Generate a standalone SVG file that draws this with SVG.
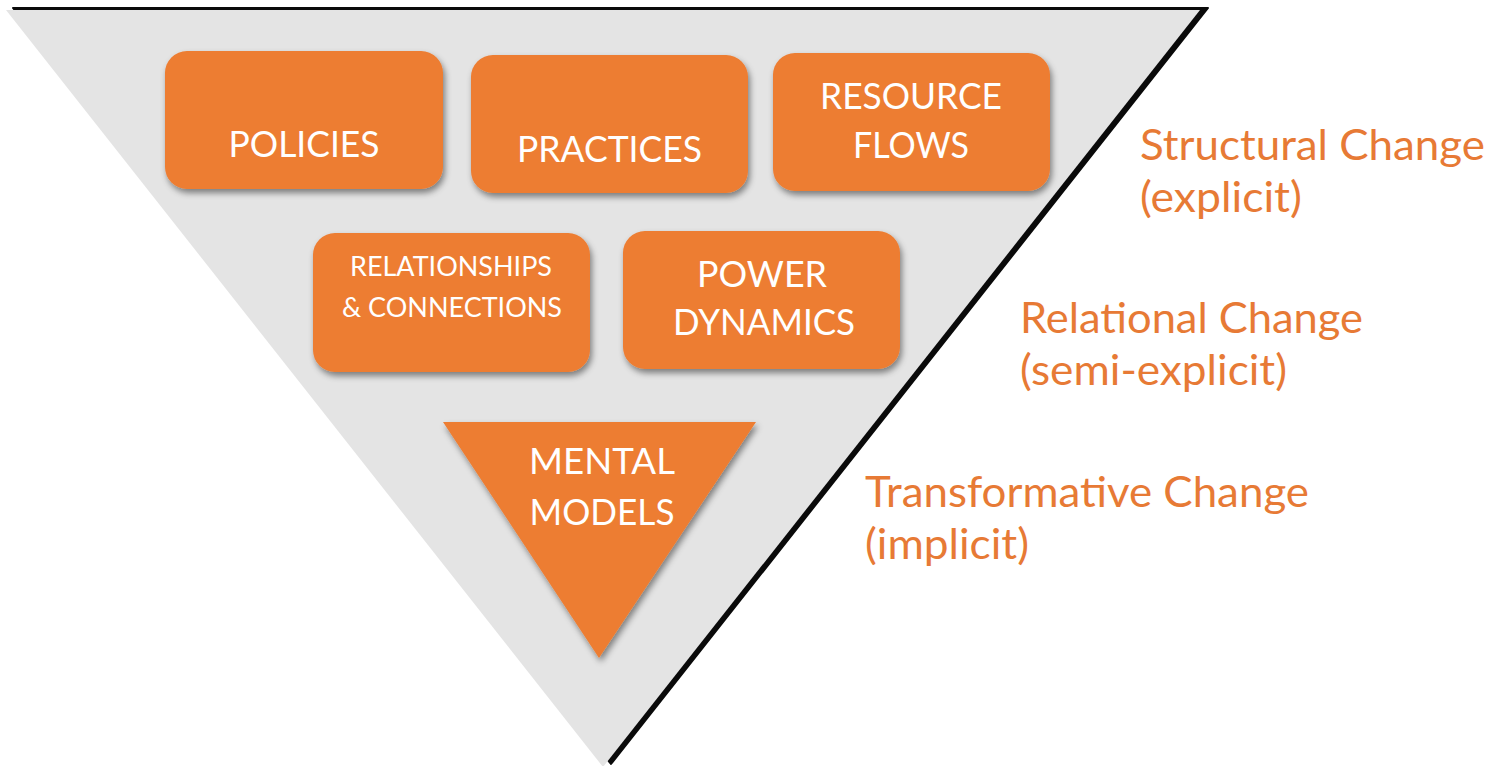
<svg xmlns="http://www.w3.org/2000/svg" width="1491" height="766" viewBox="0 0 1491 766">
  <style>
    .box { fill: #ED7D31; }
    .boxlabel { fill: #FFFFFF; font-family: Lato, "Noto Sans", "Liberation Sans", sans-serif; text-anchor: middle; }
    .side { fill: #E77A35; font-family: Lato, "Noto Sans", "Liberation Sans", sans-serif; font-size: 42px; }
  </style>
  <defs>
    <filter id="shadow" x="-10%" y="-10%" width="125%" height="130%">
      <feDropShadow dx="2" dy="4" stdDeviation="3" flood-color="#000000" flood-opacity="0.45"/>
    </filter>
  </defs>

  <!-- inverted pyramid with dark edge on top and right -->
  <g id="pyramid">
    <polygon points="13,8 1208,8 611,764" fill="#0A0A0A" stroke="#0A0A0A" stroke-width="2" stroke-linejoin="round"/>
    <polygon points="6,10 1200,10 603,767" fill="#E4E4E4"/>
  </g>

  <g id="connectors"/>

  <g id="policies">
    <rect class="box" x="165" y="51" width="278" height="138" rx="22" filter="url(#shadow)"/>
    <text class="boxlabel" x="304" y="157" font-size="36" textLength="151" lengthAdjust="spacingAndGlyphs">POLICIES</text>
  </g>

  <g id="practices">
    <rect class="box" x="471" y="55" width="277" height="138" rx="22" filter="url(#shadow)"/>
    <text class="boxlabel" x="609.5" y="162" font-size="37" textLength="185" lengthAdjust="spacingAndGlyphs">PRACTICES</text>
  </g>

  <g id="resource-flows">
    <rect class="box" x="773" y="53" width="277" height="138" rx="22" filter="url(#shadow)"/>
    <text class="boxlabel" x="911" y="109" font-size="36" textLength="182" lengthAdjust="spacingAndGlyphs">RESOURCE</text>
    <text class="boxlabel" x="911" y="158" font-size="36" textLength="116" lengthAdjust="spacingAndGlyphs">FLOWS</text>
  </g>

  <g id="relationships">
    <rect class="box" x="313" y="233" width="277" height="139" rx="22" filter="url(#shadow)"/>
    <text class="boxlabel" x="451" y="276" font-size="27" textLength="202" lengthAdjust="spacingAndGlyphs">RELATIONSHIPS</text>
    <text class="boxlabel" x="452" y="317" font-size="27" textLength="220" lengthAdjust="spacingAndGlyphs">&amp; CONNECTIONS</text>
  </g>

  <g id="power-dynamics">
    <rect class="box" x="623" y="231" width="277" height="138" rx="22" filter="url(#shadow)"/>
    <text class="boxlabel" x="762" y="287" font-size="37" textLength="130" lengthAdjust="spacingAndGlyphs">POWER</text>
    <text class="boxlabel" x="764" y="335" font-size="37" textLength="182" lengthAdjust="spacingAndGlyphs">DYNAMICS</text>
  </g>

  <g id="mental-models">
    <polygon class="box" points="443,422 756,422 599,658" filter="url(#shadow)"/>
    <text class="boxlabel" x="602" y="474" font-size="36" textLength="146" lengthAdjust="spacingAndGlyphs">MENTAL</text>
    <text class="boxlabel" x="602" y="525" font-size="36" textLength="145" lengthAdjust="spacingAndGlyphs">MODELS</text>
  </g>

  <!-- level labels to the right of the pyramid -->
  <g id="structural-label">
    <text class="side" x="1140" y="160" textLength="345" lengthAdjust="spacingAndGlyphs">Structural Change</text>
    <text class="side" x="1140" y="212" textLength="162" lengthAdjust="spacingAndGlyphs">(explicit)</text>
  </g>
  <g id="relational-label">
    <text class="side" x="1020" y="333" textLength="343" lengthAdjust="spacingAndGlyphs">Relational Change</text>
    <text class="side" x="1020" y="385" textLength="267" lengthAdjust="spacingAndGlyphs">(semi-explicit)</text>
  </g>
  <g id="transformative-label">
    <text class="side" x="865" y="507" textLength="444" lengthAdjust="spacingAndGlyphs">Transformative Change</text>
    <text class="side" x="865" y="559" textLength="164" lengthAdjust="spacingAndGlyphs">(implicit)</text>
  </g>
</svg>
